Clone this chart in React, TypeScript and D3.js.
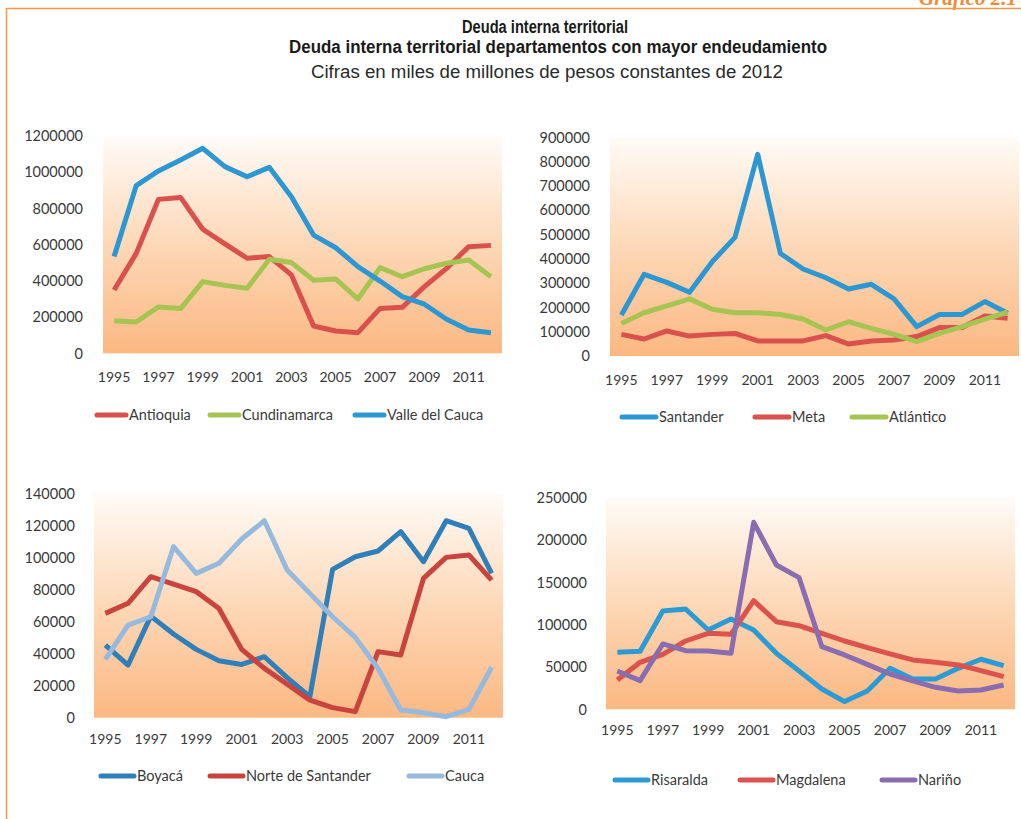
import React from "react";
import * as d3 from "d3";

const years = ["1995","1996","1997","1998","1999","2000","2001","2002","2003","2004","2005","2006","2007","2008","2009","2010","2011","2012"];
const xTickLabels = ["1995","1997","1999","2001","2003","2005","2007","2009","2011"];

// Panel 1
const antioquia = [350000,552000,850000,861000,685000,604000,525000,534000,433000,151000,123000,114000,248000,254000,368000,469000,589000,596000];
const cundinamarca = [180000,173000,256000,247000,396000,375000,359000,519000,501000,403000,410000,300000,473000,423000,467000,497000,515000,423000];
const valleDelCauca = [534000,926000,1007000,1068000,1132000,1031000,975000,1027000,865000,653000,583000,479000,399000,313000,271000,188000,129000,114000];
const ticks1 = [0,200000,400000,600000,800000,1000000,1200000];

// Panel 2
const santander = [169000,336000,303000,262000,388000,488000,830000,422000,358000,322000,276000,295000,235000,121000,171000,171000,224000,176000];
const meta = [89000,70000,103000,82000,89000,93000,62000,62000,62000,84000,49000,62000,66000,80000,117000,117000,165000,155000];
const atlantico = [134000,178000,206000,235000,192000,178000,178000,171000,152000,107000,141000,114000,89000,59000,93000,121000,152000,180000];
const ticks2 = [0,100000,200000,300000,400000,500000,600000,700000,800000,900000];

// Panel 3
const boyaca = [45400,32900,63500,52300,42700,35600,33300,38100,25000,13100,92700,100600,104200,116300,97500,123100,118300,90200];
const norteDeSantander = [65200,71500,88100,83500,78800,68300,42700,30800,21000,11000,6300,3800,41300,39200,87100,100200,101700,86000];
const cauca = [36500,57900,63100,106900,90200,96500,111700,123100,92300,77700,63100,50200,30800,4800,3100,600,5200,31500];
const ticks3 = [0,20000,40000,60000,80000,100000,120000,140000];

// Panel 4
const risaralda = [67300,68500,116100,118500,93700,106700,93700,66100,45300,24000,9100,21700,48400,35800,35800,48400,59100,51600];
const magdalena = [34600,55500,65000,80700,89800,88600,128300,103500,98800,89800,80700,72800,65400,58300,55500,52400,45700,38600];
const narino = [45300,33900,77200,69300,68900,66100,220900,170500,155500,74000,64200,53100,41700,33500,26000,21700,22800,28700];
const ticks4 = [0,50000,100000,150000,200000,250000];

const titleLines = [
  "Deuda interna territorial",
  "Deuda interna territorial departamentos con mayor endeudamiento",
  "Cifras en miles de millones de pesos constantes de 2012",
];
const graficoLabel = "Gráfico 2.1";

type Series = { name: string; values: number[]; color: string };
type Panel = {
  series: Series[];
  ticks: number[];
  left: number; right: number; top: number; bottom: number;
  labelRight: number; xLabelY: number; legendY: number; legendX: number[]; sampleLen: number;
};

const panels: Panel[] = [
  {
    series: [
      { name: "Antioquia", values: antioquia, color: "#d9504c" },
      { name: "Cundinamarca", values: cundinamarca, color: "#a6c452" },
      { name: "Valle del Cauca", values: valleDelCauca, color: "#2b97d3" },
    ],
    ticks: ticks1, left: 103, right: 502, top: 136, bottom: 353.3,
    labelRight: 83, xLabelY: 377, legendY: 415, legendX: [95, 208, 353], sampleLen: 33,
  },
  {
    series: [
      { name: "Santander", values: santander, color: "#2b97d3" },
      { name: "Meta", values: meta, color: "#d9504c" },
      { name: "Atlántico", values: atlantico, color: "#a6c452" },
    ],
    ticks: ticks2, left: 610, right: 1019, top: 137.3, bottom: 356,
    labelRight: 590, xLabelY: 380, legendY: 417, legendX: [620, 753, 850], sampleLen: 38,
  },
  {
    series: [
      { name: "Boyacá", values: boyaca, color: "#2f80ba" },
      { name: "Norte de Santander", values: norteDeSantander, color: "#c9433f" },
      { name: "Cauca", values: cauca, color: "#96badd" },
    ],
    ticks: ticks3, left: 94, right: 503, top: 493.7, bottom: 717.7,
    labelRight: 75, xLabelY: 739, legendY: 776, legendX: [99, 208, 407], sampleLen: 37,
  },
  {
    series: [
      { name: "Risaralda", values: risaralda, color: "#2b9bd6" },
      { name: "Magdalena", values: magdalena, color: "#dc524d" },
      { name: "Nariño", values: narino, color: "#8a6cb0" },
    ],
    ticks: ticks4, left: 606, right: 1015, top: 497.7, bottom: 709.3,
    labelRight: 587, xLabelY: 730, legendY: 780, legendX: [613, 738, 880], sampleLen: 37,
  },
];

const FONT = "Lato, 'Open Sans', sans-serif";
const TEXT = "#3a3a3a";

function ChartPanel({ p, idx }: { p: Panel; idx: number }) {
  const x = d3.scaleBand<string>().domain(years).range([p.left, p.right]);
  const yMax = p.ticks[p.ticks.length - 1];
  const y = d3.scaleLinear().domain([0, yMax]).range([p.bottom, p.top]);
  const cx = (yr: string) => (x(yr) as number) + x.bandwidth() / 2;
  const line = d3
    .line<number>()
    .x((_, i) => cx(years[i]))
    .y((v) => y(v));
  const gid = `grad${idx}`;
  return (
    <g>
      <defs>
        <linearGradient id={gid} x1="0" y1="0" x2="0" y2="1">
          <stop offset="0%" stopColor="#fffbf7" />
          <stop offset="50%" stopColor="#fdd8b7" />
          <stop offset="100%" stopColor="#fbb882" />
        </linearGradient>
      </defs>
      <rect x={p.left} y={y(yMax)} width={p.right - p.left} height={y(0) - y(yMax)} fill={`url(#${gid})`} />
      {p.ticks.map((t) => (
        <text key={t} x={p.labelRight} y={y(t)} dy="0.36em" textAnchor="end" fontSize={14.5} fill={TEXT} fontFamily={FONT}>
          {t}
        </text>
      ))}
      {xTickLabels.map((lab) => (
        <text key={lab} x={cx(lab)} y={p.xLabelY} dy="0.36em" textAnchor="middle" fontSize={14} fill={TEXT} fontFamily={FONT}>
          {lab}
        </text>
      ))}
      {p.series.map((s) => (
        <path key={s.name} d={line(s.values) || ""} fill="none" stroke={s.color} strokeWidth={5} strokeLinejoin="round" strokeLinecap="butt" />
      ))}
      {p.series.map((s, i) => (
        <g key={s.name}>
          <line x1={p.legendX[i] + 2} x2={p.legendX[i] + p.sampleLen - 2} y1={p.legendY} y2={p.legendY} stroke={s.color} strokeWidth={5} strokeLinecap="round" />
          <text x={p.legendX[i] + p.sampleLen + 1} y={p.legendY} dy="0.36em" fontSize={14.5} fill={TEXT} fontFamily={FONT}>
            {s.name}
          </text>
        </g>
      ))}
    </g>
  );
}

export default function App() {
  const W = 1021;
  const H = 819;
  const TITLE_FONT = "'Liberation Sans Narrow', 'Liberation Sans', Arial, sans-serif";
  return (
    <div style={{ position: "absolute", left: 0, top: 0 }}>
      <svg width={W} height={H} style={{ display: "block", background: "#ffffff" }}>
        <rect x={0} y={0} width={W} height={H} fill="#ffffff" />
        <text x={1017} y={5} textAnchor="end" fontSize={21} fontStyle="italic" fontWeight="bold" fill="#f08a3a" fontFamily="'Liberation Serif', 'DejaVu Serif', serif">
          {graficoLabel}
        </text>
        <line x1={6} x2={W} y1={8.5} y2={8.5} stroke="#f79646" strokeWidth={1.5} />
        <line x1={6.5} x2={6.5} y1={8} y2={H} stroke="#f79646" strokeWidth={1.5} />
        <text x={545} y={33} textAnchor="middle" fontSize={17.5} fontWeight="bold" fill="#1a1a1a" fontFamily={TITLE_FONT} textLength={166} lengthAdjust="spacingAndGlyphs">
          {titleLines[0]}
        </text>
        <text x={558} y={53} textAnchor="middle" fontSize={17.5} fontWeight="bold" fill="#1a1a1a" fontFamily={TITLE_FONT} textLength={538} lengthAdjust="spacingAndGlyphs">
          {titleLines[1]}
        </text>
        <text x={547} y={78} textAnchor="middle" fontSize={17.5} fill="#2a2a2a" fontFamily={TITLE_FONT} textLength={472} lengthAdjust="spacingAndGlyphs">
          {titleLines[2]}
        </text>
        {panels.map((p, i) => (
          <ChartPanel key={i} p={p} idx={i} />
        ))}
      </svg>
    </div>
  );
}
